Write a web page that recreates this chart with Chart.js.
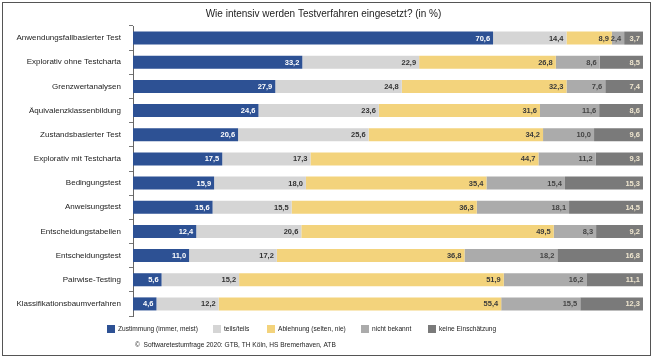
<!DOCTYPE html>
<html>
<head>
<meta charset="utf-8">
<script src="https://cdn.jsdelivr.net/npm/chart.js@4.4.1/dist/chart.umd.min.js"></script>
<style>
  html, body { margin: 0; padding: 0; background: #fff; }
  #wrap { position: relative; width: 656px; height: 361px; }
</style>
</head>
<body>
<div id="wrap"><canvas id="c" width="656" height="361"></canvas></div>
<script>
const categories = [
  'Anwendungsfallbasierter Test',
  'Explorativ ohne Testcharta',
  'Grenzwertanalysen',
  'Äquivalenzklassenbildung',
  'Zustandsbasierter Test',
  'Explorativ mit Testcharta',
  'Bedingungstest',
  'Anweisungstest',
  'Entscheidungstabellen',
  'Entscheidungstest',
  'Pairwise-Testing',
  'Klassifikationsbaumverfahren'
];
const zustimmung = [70.6, 33.2, 27.9, 24.6, 20.6, 17.5, 15.9, 15.6, 12.4, 11.0, 5.6, 4.6];
const teils      = [14.4, 22.9, 24.8, 23.6, 25.6, 17.3, 18.0, 15.5, 20.6, 17.2, 15.2, 12.2];
const ablehnung  = [8.9, 26.8, 32.3, 31.6, 34.2, 44.7, 35.4, 36.3, 49.5, 36.8, 51.9, 55.4];
const nichtBekannt = [2.4, 8.6, 7.6, 11.6, 10.0, 11.2, 15.4, 18.1, 8.3, 18.2, 16.2, 15.5];
const keineEinsch = [3.7, 8.5, 7.4, 8.6, 9.6, 9.3, 15.3, 14.5, 9.2, 16.8, 11.1, 12.3];
const seriesNames = ['Zustimmung (immer, meist)', 'teils/teils', 'Ablehnung (selten, nie)', 'nicht bekannt', 'keine Einschätzung'];
const titleText = 'Wie intensiv werden Testverfahren eingesetzt? (in %)';
const creditText = '©  Softwaretestumfrage 2020: GTB, TH Köln, HS Bremerhaven, ATB';

const colors = ['#2d5194', '#d5d5d5', '#f3d37c', '#ababab', '#7a7a7a'];
const labelColors = ['#ffffff', '#333333', '#3a3a3a', '#444444', '#efe6cf'];
const FONT = "'Liberation Sans', Arial, sans-serif";

const seriesData = [zustimmung, teils, ablehnung, nichtBekannt, keineEinsch];
const datasets = seriesData.map((d, i) => ({
  label: seriesNames[i],
  data: d,
  backgroundColor: colors[i],
  borderWidth: 0,
  barPercentage: 0.54,
  categoryPercentage: 1.0
}));

const fmt = v => v.toFixed(1).replace('.', ',');

const extrasPlugin = {
  id: 'extras',
  afterDatasetsDraw(chart) {
    const ctx = chart.ctx;
    ctx.save();
    ctx.font = "bold 7.5px " + FONT;
    ctx.textAlign = 'right';
    ctx.textBaseline = 'middle';
    chart.data.datasets.forEach((ds, di) => {
      const meta = chart.getDatasetMeta(di);
      meta.data.forEach((bar, i) => {
        ctx.fillStyle = labelColors[di];
        ctx.fillText(fmt(ds.data[i]), bar.x - 3, bar.y + 0.5);
      });
    });
    ctx.restore();
  },
  afterDraw(chart) {
    const ctx = chart.ctx;
    ctx.save();
    // outer frame
    ctx.strokeStyle = '#555';
    ctx.lineWidth = 1;
    ctx.strokeRect(2.5, 2.5, 648, 353);
    // legend
    const xs = [107, 213, 267, 361, 428];
    ctx.font = "6.6px " + FONT;
    ctx.textAlign = 'left';
    ctx.textBaseline = 'middle';
    chart.data.datasets.forEach((ds, i) => {
      ctx.fillStyle = ds.backgroundColor;
      ctx.fillRect(xs[i], 325, 8, 8);
      ctx.fillStyle = '#222';
      ctx.fillText(ds.label, xs[i] + 11, 329.5);
    });
    // credit
    ctx.font = "6.6px " + FONT;
    ctx.fillStyle = '#222';
    ctx.fillText(creditText, 135, 345);
    ctx.restore();
  }
};

new Chart(document.getElementById('c'), {
  type: 'bar',
  data: { labels: categories, datasets },
  options: {
    indexAxis: 'y',
    responsive: false,
    animation: false,
    devicePixelRatio: 1,
    layout: { padding: { left: 4, right: 13, top: 0, bottom: 45 } },
    plugins: {
      legend: { display: false },
      tooltip: { enabled: false },
      title: {
        display: true,
        text: titleText,
        color: '#222',
        font: { family: FONT, size: 10, weight: 'normal' },
        padding: { top: 8, bottom: 6 }
      }
    },
    scales: {
      x: { stacked: true, min: 0, max: 100, display: false },
      y: {
        stacked: true,
        afterFit(s) { s.width = 129; },
        border: { display: true, color: '#666', width: 1 },
        grid: { drawOnChartArea: false, drawTicks: true, tickLength: 4, color: '#777', offset: true },
        ticks: { color: '#222', padding: 8, font: { family: FONT, size: 8 } }
      }
    }
  },
  plugins: [extrasPlugin]
});
</script>
</body>
</html>
